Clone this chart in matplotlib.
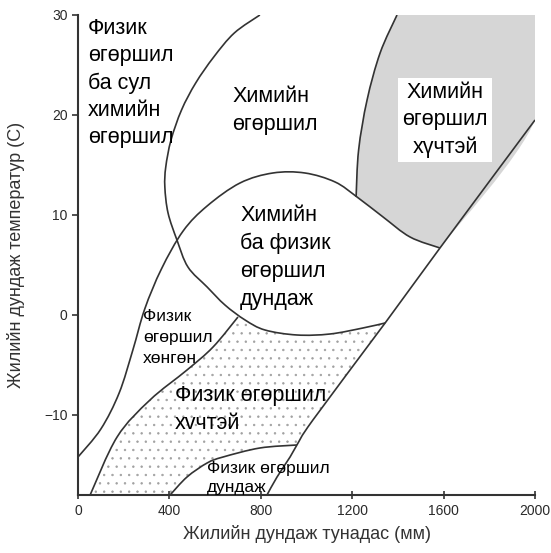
import numpy as np
import matplotlib
matplotlib.use("Agg")
import matplotlib.pyplot as plt
from matplotlib.path import Path
from matplotlib.patches import PathPatch

plt.rcParams['font.family'] = ['Liberation Sans', 'DejaVu Sans']
plt.rcParams['hatch.color'] = '#a0a0a0'
plt.rcParams['hatch.linewidth'] = 0.5

# boundary curves read as (precipitation mm, temperature C)
outer_x = [796, 684, 594, 515, 453, 407, 384, 380, 394, 433, 481, 565, 643, 731, 818, 958, 1103, 1247, 1344]
outer_y = [30, 28.2, 25.8, 23.2, 20.5, 17.5, 14.8, 12.8, 10.2, 7.5, 4.8, 2.8, 1.0, -0.5, -1.5, -2.0, -1.9, -1.3, -0.8]

upper_x = [0, 100, 180, 240, 292, 365, 460, 565, 709, 853, 993, 1125, 1221, 1335, 1453, 1584]
upper_y = [-14.2, -11.4, -7.8, -3.5, 0.6, 4.6, 8.4, 10.9, 13.2, 14.2, 14.2, 13.3, 11.8, 9.8, 7.8, 6.7]

diag_x = [2000, 1584, 1344, 1028, 958, 928, 871, 827]
diag_y = [19.5, 6.7, -0.8, -10.5, -13.0, -14.2, -16.2, -18]

light_x = [53, 171, 315, 477, 591, 700]
light_y = [-18, -12.2, -8.5, -5.5, -3.2, -0.2]

gray_x = [1396, 1322, 1265, 1228, 1217]
gray_y = [30, 26.2, 21.5, 16.5, 11.8]

moder_x = [403, 477, 565, 635, 796, 958]
moder_y = [-18, -16.2, -14.8, -14.2, -13.3, -13.0]

xticks = [0, 400, 800, 1200, 1600, 2000]
yticks = [-10, 0, 10, 20, 30]


def smooth(xs, ys):
    # cubic bezier pieces through the points (catmull-rom tangents)
    p = np.column_stack([xs, ys]).astype(float)
    n = len(p)
    verts, codes = [], []
    for i in range(n - 1):
        p0 = p[max(i - 1, 0)]
        p1, p2 = p[i], p[i + 1]
        p3 = p[min(i + 2, n - 1)]
        c1 = p1 + (p2 - p0) / 6.0
        c2 = p2 - (p3 - p1) / 6.0
        verts += [c1, c2, p2]
        codes += [Path.CURVE4] * 3
    return p[0], verts, codes


def line_path(xs, ys):
    start, v, c = smooth(xs, ys)
    return Path([start] + v, [Path.MOVETO] + c)


def area_path(pieces):
    verts, codes = [], []
    for k, (xs, ys) in enumerate(pieces):
        start, v, c = smooth(xs, ys)
        verts.append(start)
        codes.append(Path.MOVETO if k == 0 else Path.LINETO)
        verts += v
        codes += c
    verts.append(verts[0])
    codes.append(Path.CLOSEPOLY)
    return Path(verts, codes)


fig = plt.figure(figsize=(5.51, 5.53), dpi=100)
ax = fig.add_axes([0.1416, 0.1049, 0.8294, 0.868])
ax.set_xlim(0, 2000)
ax.set_ylim(-18, 30)

# shaded zone: strong chemical weathering
gray_area = area_path([
    (gray_x, gray_y),
    (upper_x[-4:], upper_y[-4:]),
    ([diag_x[1], diag_x[0], 2000], [diag_y[1], diag_y[0], 30]),
])
ax.add_patch(PathPatch(gray_area, facecolor='#d6d6d6', lw=0, zorder=1))

# dotted zone: strong physical weathering
dot_area = area_path([
    (light_x, light_y),
    (outer_x[-6:], outer_y[-6:]),
    (diag_x[2:5], diag_y[2:5]),
    (moder_x[::-1], moder_y[::-1]),
])
ax.add_patch(PathPatch(dot_area, facecolor='none', edgecolor='#a0a0a0',
                       hatch='..', lw=0, zorder=1))

lc = '#333333'
for xs, ys in [(outer_x, outer_y), (upper_x, upper_y), (diag_x, diag_y),
               (light_x, light_y), (gray_x, gray_y), (moder_x, moder_y)]:
    ax.add_patch(PathPatch(line_path(xs, ys), facecolor='none', edgecolor=lc,
                           lw=1.2, zorder=3))

fs = 15.5
sm = 12.5
ax.text(44, 29.7, "Физик\nөгөршил\nба сул\nхимийн\nөгөршил", fontsize=fs,
        va='top', ha='left', linespacing=1.38, zorder=4)
ax.text(674, 22.9, "Химийн\nөгөршил", fontsize=fs, va='top', ha='left',
        linespacing=1.43, zorder=4)
ax.text(1606, 19.5, "Химийн\nөгөршил\nхүчтэй", fontsize=fs, va='center',
        ha='center', multialignment='center', linespacing=1.38, zorder=4,
        bbox=dict(facecolor='white', edgecolor='none', pad=3))
ax.text(709, 11.0, "Химийн\nба физик\nөгөршил\nдундаж", fontsize=fs,
        va='top', ha='left', linespacing=1.43, zorder=4)
ax.text(284, 0.6, "Физик\nөгөршил\nхөнгөн", fontsize=sm, va='top',
        ha='left', linespacing=1.5, zorder=4)
ax.text(425, -7.0, "Физик өгөршил\nхvчтэй", fontsize=fs, va='top',
        ha='left', linespacing=1.43, zorder=4)
ax.text(565, -14.6, "Физик өгөршил\nдундаж", fontsize=sm, va='top',
        ha='left', linespacing=1.3, zorder=4)

for s in ['top', 'right']:
    ax.spines[s].set_visible(False)
for s in ['left', 'bottom']:
    ax.spines[s].set_color(lc)
    ax.spines[s].set_linewidth(1.5)

ax.set_xticks(xticks)
ax.set_yticks(yticks)
ax.tick_params(axis='y', direction='out', length=4, width=1.2, color=lc,
               labelsize=10, labelcolor='#2a2a2a')
ax.tick_params(axis='x', direction='inout', length=6, width=1.2, color=lc,
               labelsize=10, labelcolor='#2a2a2a')

ax.set_xlabel("Жилийн дундаж тунадас (мм)", fontsize=13, color='#333333', labelpad=5)
ax.set_ylabel("Жилийн дундаж температур (C)", fontsize=13, color='#333333', labelpad=14)

fig.savefig("out.png", dpi=100)
